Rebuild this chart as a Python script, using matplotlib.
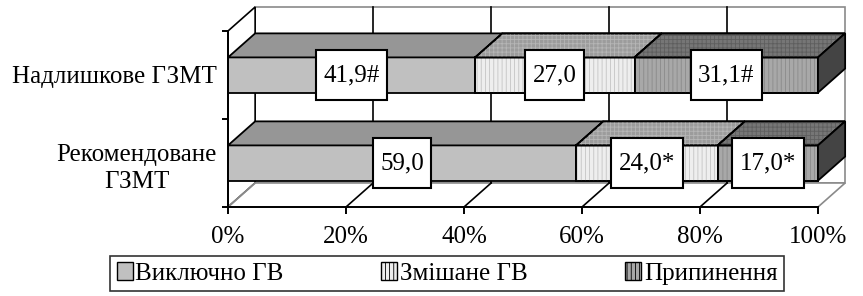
import matplotlib.pyplot as plt
from matplotlib.patches import Polygon, Patch
from matplotlib.path import Path

plt.rcParams['font.family'] = ['Liberation Serif', 'DejaVu Serif']
plt.rcParams['hatch.linewidth'] = 0.6

categories = ['Рекомендоване\nГЗМТ', 'Надлишкове ГЗМТ']
series = ['Виключно ГВ', 'Змішане ГВ', 'Припинення']
values = [[59.0, 24.0, 17.0],
          [41.9, 27.0, 31.1]]
labels = [['59,0', '24,0*', '17,0*'],
          ['41,9#', '27,0', '31,1#']]
xticks = [0, 20, 40, 60, 80, 100]

# front / top / side colours and hatches for each series
front_col = ['#c0c0c0', '#eeeeee', '#a8a8a8']
top_col = ['#969696', '#9c9c9c', '#767676']
front_hatch = [None, '||||', '||||']
top_hatch = [None, '++++', '++++']
hatch_col = [None, '#c4c4c4', '#8a8a8a']
top_hatch_col = [None, '#b6b6b6', '#5e5e5e']
side_col = '#444444'

fs = 18
dx, dy = 4.6, 0.273   # depth offset (percent, category units)
bh = 0.4

fig = plt.figure(figsize=(8.63, 2.96), dpi=100)
ax = fig.add_axes([228 / 863, 89 / 296, 590 / 863, 176 / 296])
ax.set_xlim(0, 100)
ax.set_ylim(0, 2)


def label_box(x0, y0, width, height, mutation_size):
    # rectangle with separate horizontal / vertical padding
    px, py = 0.3 * mutation_size, 0.55 * mutation_size
    x0, y0 = x0 - px, y0 - py
    x1, y1 = x0 + width + 2 * px, y0 + height + 2 * py
    return Path([(x0, y0), (x1, y0), (x1, y1), (x0, y1), (x0, y0)], closed=True)


def poly(pts, fc, ec='black', lw=1.3, hatch=None, hc=None, z=2):
    p = Polygon(pts, closed=True, facecolor=fc, edgecolor=ec, lw=lw,
                clip_on=False, zorder=z)
    ax.add_patch(p)
    if hatch:
        h = Polygon(pts, closed=True, facecolor='none', edgecolor=hc,
                    lw=0, hatch=hatch, clip_on=False, zorder=z)
        ax.add_patch(h)
        o = Polygon(pts, closed=True, facecolor='none', edgecolor=ec,
                    lw=lw, clip_on=False, zorder=z)
        ax.add_patch(o)


# walls
poly([(dx, dy), (100 + dx, dy), (100 + dx, 2 + dy), (dx, 2 + dy)],
     'white', ec='#8a8a8a', lw=1.2, z=0)
poly([(0, 0), (dx, dy), (dx, 2 + dy), (0, 2)], 'white', ec='black', lw=1.2, z=0)
poly([(0, 0), (100, 0), (100 + dx, dy), (dx, dy)], 'white', ec='#8a8a8a', lw=1.2, z=0)
for t in xticks[1:-1]:
    ax.plot([t + dx, t + dx], [dy, 2 + dy], color='black', lw=1.2, clip_on=False, zorder=1)
    ax.plot([t, t + dx], [0, dy], color='black', lw=1.2, clip_on=False, zorder=1)
ax.plot([0, dx], [0, dy], color='#8a8a8a', lw=1.2, clip_on=False, zorder=1)

# bars
for i, row in enumerate(values):
    yc = i + 0.5
    y0, y1 = yc - bh / 2, yc + bh / 2
    left = 0
    for j, v in enumerate(row):
        r = left + v
        poly([(left, y0), (r, y0), (r, y1), (left, y1)], front_col[j],
             hatch=front_hatch[j], hc=hatch_col[j], z=3)
        poly([(left, y1), (r, y1), (r + dx, y1 + dy), (left + dx, y1 + dy)],
             top_col[j], hatch=top_hatch[j], hc=top_hatch_col[j], z=3)
        if j == len(row) - 1:
            poly([(r, y0), (r + dx, y0 + dy), (r + dx, y1 + dy), (r, y1)],
                 side_col, z=3)
        ax.text(left + v / 2, yc, labels[i][j], ha='center', va='center',
                fontsize=fs, zorder=5,
                bbox=dict(boxstyle=label_box, fc='white', ec='black', lw=1.5))
        left = r

# axes
for s in ['top', 'right']:
    ax.spines[s].set_visible(False)
for s in ['bottom', 'left']:
    ax.spines[s].set_linewidth(1.4)
    ax.spines[s].set_zorder(4)
ax.set_xticks(xticks, [f'{t}%' for t in xticks])
ax.set_yticks([0, 1, 2], ['', '', ''])
ax.set_yticks([0.5, 1.5], categories, minor=True)
ax.tick_params(axis='x', direction='out', length=5, width=1.4, labelsize=fs, pad=9)
ax.tick_params(axis='y', which='major', direction='out', length=4, width=1.4)
ax.tick_params(axis='y', which='minor', length=0, labelsize=fs, pad=8)
for lab in ax.get_yticklabels(minor=True):
    lab.set_multialignment('center')
    lab.set_linespacing(1.35)
ax.set_facecolor('none')

handles = [Patch(facecolor=front_col[k], edgecolor='black', hatch=front_hatch[k])
           for k in range(3)]
leg = fig.legend(handles, series, loc='center', bbox_to_anchor=(447 / 863, 1 - 273.5 / 296),
                 ncol=3, frameon=True, fancybox=False, edgecolor='black', fontsize=fs,
                 handlelength=0.65, handleheight=0.75, handletextpad=0.1,
                 columnspacing=3.9, borderpad=0.25, borderaxespad=0)
leg.get_frame().set_linewidth(1.2)

fig.savefig('out.png', dpi=100)
